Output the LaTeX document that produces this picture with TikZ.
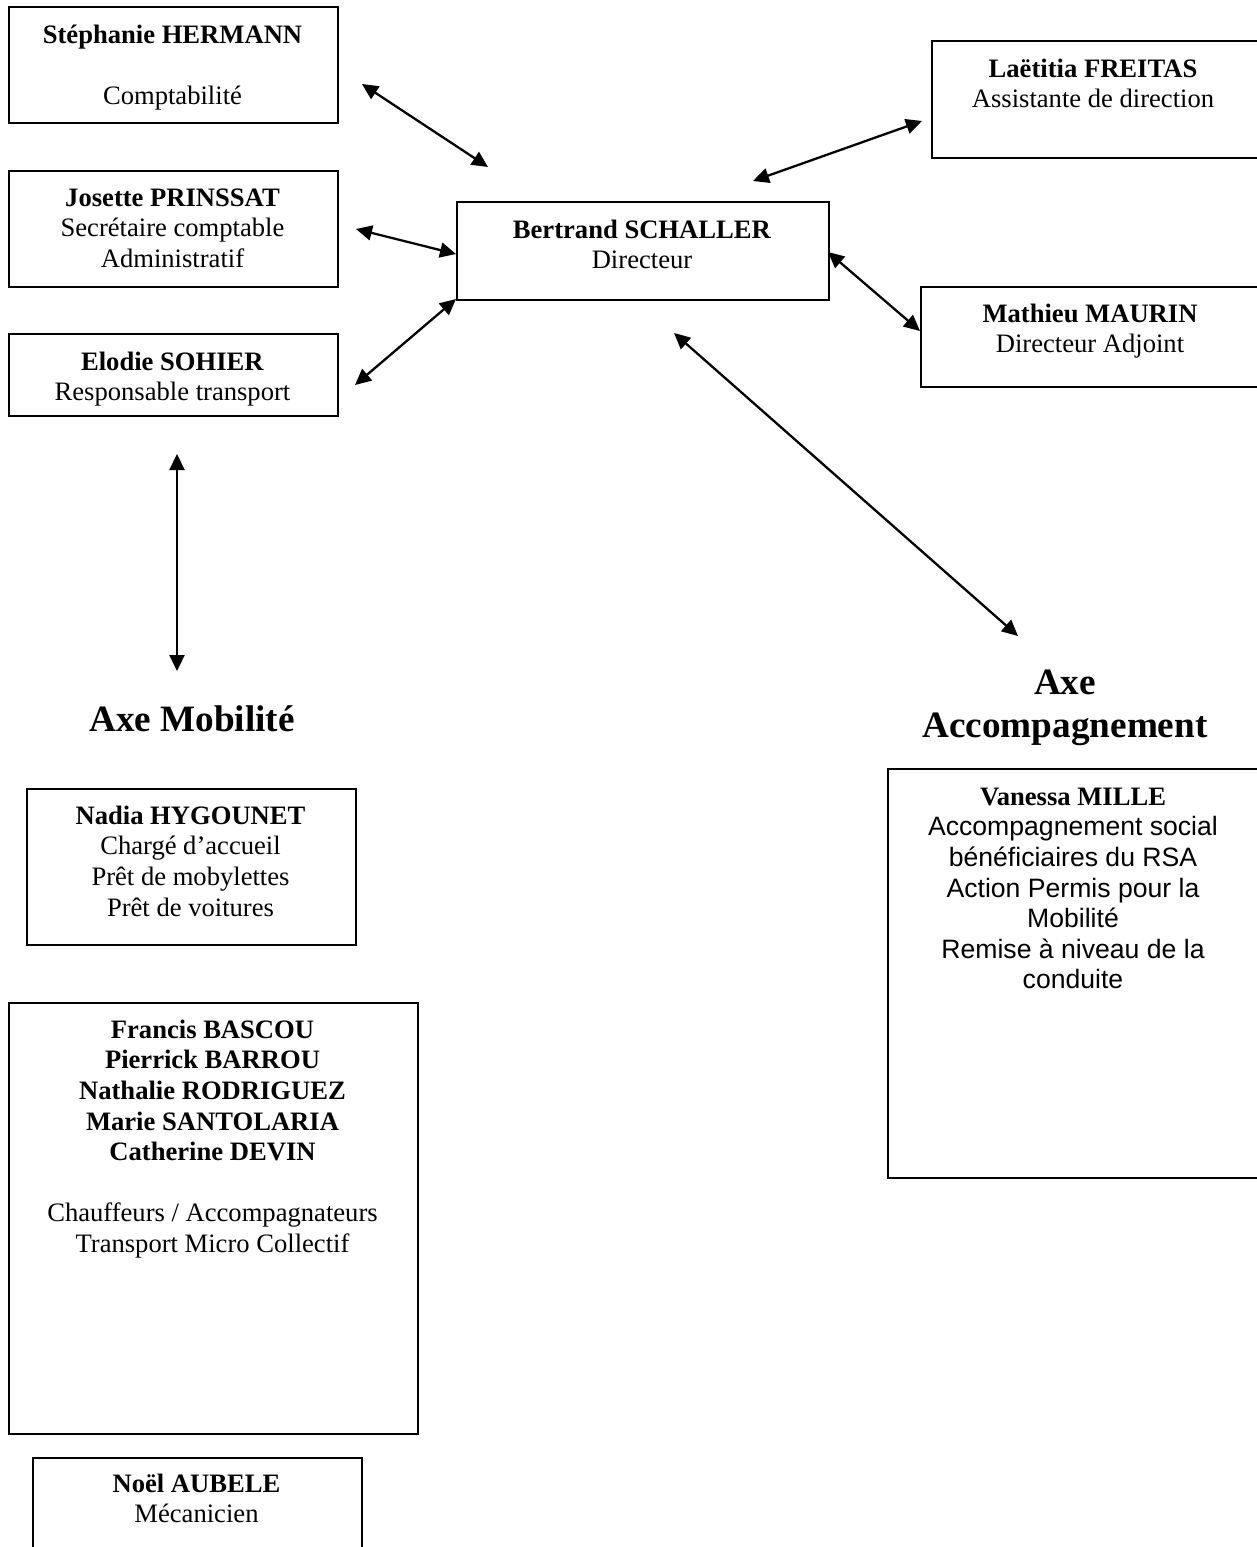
\documentclass[tikz,border=0pt]{standalone}
\usepackage{fontspec}
\setmainfont{Liberation Serif}
\newfontfamily\arialf{Liberation Sans}
\usetikzlibrary{arrows.meta}
\newcommand\firstl{\rule{0pt}{20pt}}
\newcommand\normsz{\fontsize{26.6}{30.6}\selectfont}
\tikzset{
  box/.style={draw, line width=1.6pt, inner sep=0pt, anchor=north west},
  txt/.style={align=center, inner sep=0pt, anchor=north, font=\normsz},
  axe/.style={align=center, inner sep=0pt, anchor=base, font=\bfseries\fontsize{37.2}{43}\selectfont},
  link/.style={line width=2.3pt, {Triangle[length=16pt,width=15pt]}-{Triangle[length=16pt,width=15pt]}}
}
\begin{document}
\begin{tikzpicture}[x=1pt,y=-1pt]
\useasboundingbox (0,0) rectangle (1256,1547);
% boxes
\node[box, minimum width=329pt, minimum height=116pt] (hermann) at (8,6) {};
\node[box, minimum width=329pt, minimum height=116pt] (prinssat) at (8,170) {};
\node[box, minimum width=329pt, minimum height=82pt] (sohier) at (8,333) {};
\node[box, minimum width=372pt, minimum height=98pt] (schaller) at (456,201) {};
\node[box, minimum width=334pt, minimum height=117pt] (freitas) at (931,40) {};
\node[box, minimum width=346pt, minimum height=100pt] (maurin) at (920,286) {};
\node[box, minimum width=329pt, minimum height=156pt] (hygounet) at (26,788) {};
\node[box, minimum width=409pt, minimum height=431pt] (bascou) at (8,1002) {};
\node[box, minimum width=378pt, minimum height=409pt] (mille) at (887,768) {};
\node[box, minimum width=329pt, minimum height=110pt] (aubele) at (32,1457) {};
% texts
\node[txt] (thermann) at (172.5,23) {\firstl\textbf{Stéphanie HERMANN}\\ \mbox{}\\ Comptabilité};
\node[txt] (tprinssat) at (172.5,186) {\firstl\textbf{Josette PRINSSAT}\\ Secrétaire comptable\\ Administratif};
\node[txt] (tsohier) at (172.5,350) {\firstl\textbf{Elodie SOHIER}\\ Responsable transport};
\node[txt] (tschaller) at (642,218) {\firstl\textbf{Bertrand SCHALLER}\\ Directeur};
\node[txt] (tfreitas) at (1093,57) {\firstl\textbf{Laëtitia FREITAS}\\ Assistante de direction};
\node[txt] (tmaurin) at (1090,302) {\firstl\textbf{Mathieu MAURIN}\\ Directeur Adjoint};
\node[txt] (thygounet) at (190.5,804) {\firstl\textbf{Nadia HYGOUNET}\\ Chargé d’accueil\\ Prêt de mobylettes\\ Prêt de voitures};
\node[txt] (tbascou) at (212.5,1018) {\firstl\textbf{Francis BASCOU}\\ \textbf{Pierrick BARROU}\\ \textbf{Nathalie RODRIGUEZ}\\ \textbf{Marie SANTOLARIA}\\ \textbf{Catherine DEVIN}\\ \mbox{}\\ Chauffeurs / Accompagnateurs\\ Transport Micro Collectif};
\node[txt] (tmille) at (1073,785) {\firstl\textbf{Vanessa MILLE}\\ {\arialf Accompagnement social}\\ {\arialf bénéficiaires du RSA}\\ {\arialf Action Permis pour la}\\ {\arialf Mobilité}\\ {\arialf Remise à niveau de la}\\ {\arialf conduite}};
\node[txt] (taubele) at (196.5,1472) {\firstl\textbf{Noël AUBELE}\\ Mécanicien};
% axis titles
\node[axe] (mobilite) at (192,731) {Axe Mobilité};
\node[axe] (accomp) at (1065,737) {Axe\\ Accompagnement};
% connector end points
\coordinate (h1) at (362,84);  \coordinate (h2) at (488,167);
\coordinate (f1) at (753,181); \coordinate (f2) at (922,121);
\coordinate (p1) at (356,229); \coordinate (p2) at (456,254);
\coordinate (s1) at (355,385); \coordinate (s2) at (456,299);
\coordinate (m1) at (828,252); \coordinate (m2) at (920,331);
\coordinate (a1) at (674,333); \coordinate (a2) at (1018,636);
\coordinate (v1) at (177,454); \coordinate (v2) at (177,671);
\draw[link] (h1) -- (h2);
\draw[link] (f1) -- (f2);
\draw[link] (p1) -- (p2);
\draw[link] (s1) -- (s2);
\draw[link] (m1) -- (m2);
\draw[link] (a1) -- (a2);
\draw[link] (v1) -- (v2);
\end{tikzpicture}
\end{document}
